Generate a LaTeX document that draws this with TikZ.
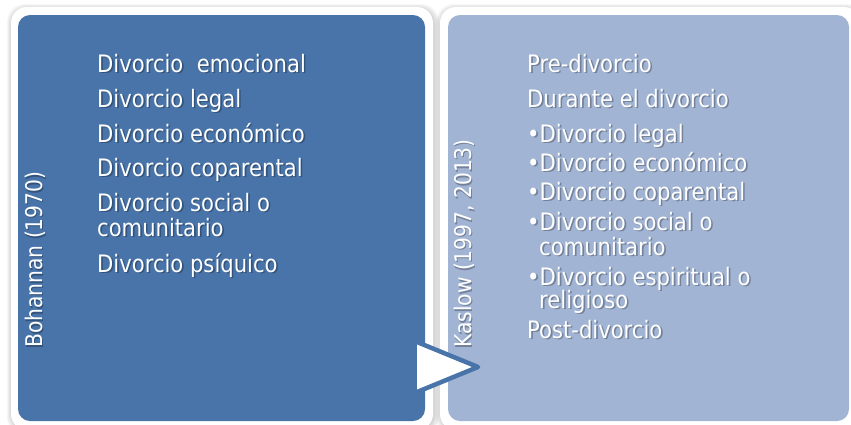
\documentclass[tikz,border=0pt]{standalone}
\usepackage{fontspec}
\setmainfont{DejaVu Sans}[FakeStretch=0.88]
\definecolor{darkbox}{RGB}{72,116,170}
\definecolor{lightbox}{RGB}{161,180,212}
\newcommand\shtext[4]{%
  \node[item,text=black,opacity=0.28] (#1s) at ({#2+1.6},{#3+1.6}) {#4};
  \node[item] (#1) at (#2,#3) {#4};}
\newcommand\shrot[4]{%
  \node[rotlabel,text=black,opacity=0.28] (#1s) at ({#2+1.6},{#3+1.6}) {#4};
  \node[rotlabel] (#1) at (#2,#3) {#4};}
\begin{document}
\begin{tikzpicture}[x=1pt,y=-1pt,
  item/.style={anchor=base west,inner sep=0pt,text=white,font=\fontsize{24}{28}\selectfont},
  rotlabel/.style={anchor=base west,inner sep=0pt,text=white,rotate=90,font=\fontsize{23}{27}\selectfont},
  outerbox/.style={fill=white,rounded corners=16pt},
  innerbox/.style={rounded corners=12pt}]
\useasboundingbox (0,0) rectangle (851,424);
\clip (0,0) rectangle (851,424);
% soft shadows
\foreach \i in {1,2,3,4,5}{
  \fill[black,opacity=0.035,rounded corners=18pt] ({11-\i+1},{7-\i+2}) rectangle ({433+\i+1},{430+\i});
  \fill[black,opacity=0.035,rounded corners=18pt] ({440-\i+1},{7-\i+2}) rectangle ({860+\i},{430+\i});
}
% outer white frames
\fill[outerbox] (11,7) rectangle (433,430);
\fill[outerbox] (440,7) rectangle (860,430);
% inner coloured boxes
\fill[innerbox,darkbox] (18,15) rectangle (425,421);
\fill[innerbox,lightbox] (448,15) rectangle (849,421);
% arrow triangle
\coordinate (ta) at (417,342);
\coordinate (tb) at (478,367);
\coordinate (tc) at (417,392);
\fill[white] (ta) -- (tb) -- (tc) -- cycle;
\draw[darkbox,line width=4.5pt,line join=round] (ta) -- (tb) -- (tc);
% rotated labels
\shrot{bo}{42}{348}{Bohannan (1970)}
\shrot{ka}{471}{348}{Kaslow (1997, 2013)}
% left list
\shtext{l1}{97}{72}{Divorcio\ \ emocional}
\shtext{l2}{97}{107}{Divorcio legal}
\shtext{l3}{97}{142}{Divorcio económico}
\shtext{l4}{97}{176}{Divorcio coparental}
\shtext{l5}{97}{211}{Divorcio social o}
\shtext{l6}{97}{236}{comunitario}
\shtext{l7}{97}{272}{Divorcio psíquico}
% right list
\shtext{r1}{527}{72}{Pre-divorcio}
\shtext{r2}{527}{107}{Durante el divorcio}
\shtext{r3}{527}{142}{•Divorcio legal}
\shtext{r4}{527}{171}{•Divorcio económico}
\shtext{r5}{527}{200}{•Divorcio coparental}
\shtext{r6}{527}{230}{•Divorcio social o}
\shtext{r7}{539}{255}{comunitario}
\shtext{r8}{527}{285}{•Divorcio espiritual o}
\shtext{r9}{539}{308}{religioso}
\shtext{r10}{527}{338}{Post-divorcio}
\end{tikzpicture}
\end{document}
